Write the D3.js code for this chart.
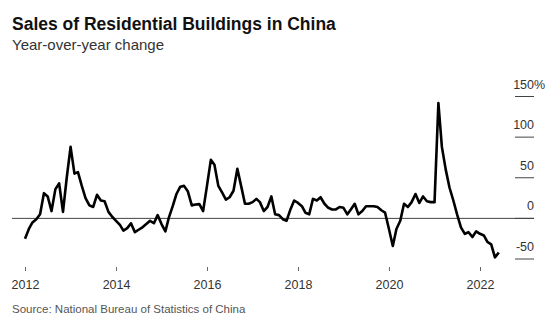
<!DOCTYPE html>
<html>
<head>
<meta charset="utf-8">
<script src="https://cdn.jsdelivr.net/npm/d3@7"></script>
<style>
    body { margin: 0; background: #fff; }
    svg { font-family: "Liberation Sans", Arial, sans-serif; }
</style>
</head>
<body>
<div id="chart"></div>
<script>
// monthly YoY change, Jan 2012 .. Jun 2022
const startYear = 2012;
const values = [
    -25, -13, -5, -1, 5, 31, 27, 9, 36, 43, 8, 50,
    88, 55, 57, 40, 25, 16, 14, 29, 22, 21, 8, 2,
    -3, -8, -15, -12, -6, -17, -14, -11, -7, -3, -6, 4,
    -7, -16, 1, 15, 30, 39, 40, 33, 16, 17, 17.5, 9,
    40, 72, 66, 40, 32, 23, 26, 34, 61, 40, 18, 18,
    20, 24, 20, 9, 14, 27, 5, 4, -1, -3, 11, 22,
    19, 15, 7, 5, 24, 22, 26, 18, 13, 11, 11, 14,
    13, 5, 11, 18, 5, 9, 15, 15, 15, 14, 10, 7,
    -13, -34, -13, -3, 18, 14, 20, 30, 19, 27, 21, 20,
    20, 142, 88, 60, 38, 22, 5, -11, -19, -17, -23, -16,
    -19, -21, -29, -32, -48, -42
];
const yTicks = [150, 100, 50, 0, -50];
const xTickYears = [2012, 2014, 2016, 2018, 2020, 2022];

const title = "Sales of Residential Buildings in China";
const subtitle = "Year-over-year change";
const source = "Source: National Bureau of Statistics of China";

const width = 560, height = 322;
const data = values.map((v, i) => ({ date: new Date(startYear, i, 1), value: v }));

const svg = d3.select("#chart").append("svg")
    .attr("width", width)
    .attr("height", height);

const x = d3.scaleTime()
    .domain([new Date(2012, 0, 1), new Date(2022, 0, 1)])
    .range([25, 480]);

const y = d3.scaleLinear()
    .domain([-50, 150])
    .range([259, 96.5]);

// titles
svg.append("text")
    .attr("x", 12).attr("y", 30)
    .attr("font-size", 17.5).attr("font-weight", "bold")
    .attr("fill", "#111")
    .text(title);

svg.append("text")
    .attr("x", 12).attr("y", 50)
    .attr("font-size", 15)
    .attr("fill", "#333")
    .text(subtitle);

// y axis on the right: short lines with labels above
const yAxis = svg.append("g").attr("class", "y-axis");
yTicks.forEach(t => {
    yAxis.append("line")
        .attr("x1", 515).attr("x2", 534)
        .attr("y1", y(t)).attr("y2", y(t))
        .attr("stroke", "#444").attr("stroke-width", 1);
    yAxis.append("text")
        .attr("x", 534).attr("y", y(t) - 8)
        .attr("font-size", 12.5).attr("fill", "#333")
        .attr("text-anchor", "end")
        .text(t);
});
// the % hangs past the right edge of the top label
yAxis.append("text")
    .attr("x", 534).attr("y", y(150) - 8)
    .attr("font-size", 12.5).attr("fill", "#333")
    .text("%");

// zero line
svg.append("line")
    .attr("x1", 12).attr("x2", 534)
    .attr("y1", y(0)).attr("y2", y(0))
    .attr("stroke", "#444").attr("stroke-width", 1);

// x axis
const xAxis = svg.append("g")
    .attr("transform", "translate(0, 267)")
    .call(d3.axisBottom(x)
        .tickValues(xTickYears.map(d => new Date(d, 0, 1)))
        .tickFormat(d3.timeFormat("%Y"))
        .tickSize(4)
        .tickPadding(9));
xAxis.select(".domain").remove();
xAxis.selectAll(".tick line").attr("stroke", "#666");
xAxis.selectAll(".tick text")
    .attr("font-size", 12.5)
    .attr("fill", "#333")
    .attr("font-family", "Liberation Sans, Arial, sans-serif");

// the series
const line = d3.line()
    .x(d => x(d.date))
    .y(d => y(d.value));

svg.append("path")
    .datum(data)
    .attr("d", line)
    .attr("fill", "none")
    .attr("stroke", "#000")
    .attr("stroke-width", 2.6)
    .attr("stroke-linejoin", "round");

svg.append("text")
    .attr("x", 12).attr("y", 313)
    .attr("font-size", 11.5)
    .attr("fill", "#555")
    .text(source);
</script>
</body>
</html>
